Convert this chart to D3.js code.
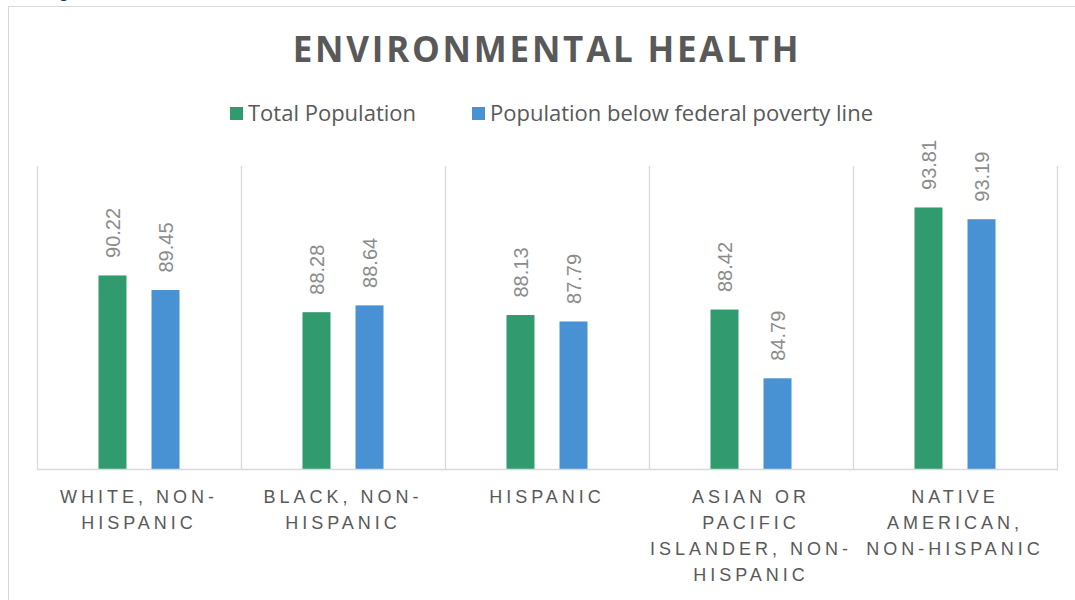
<!DOCTYPE html>
<html>
<head>
<meta charset="utf-8">
<script src="https://cdn.jsdelivr.net/npm/d3@7"></script>
<style>
  html, body { margin: 0; padding: 0; background: #ffffff; }
  svg { display: block; }
</style>
</head>
<body>
<svg id="chart" width="1075" height="600"></svg>
<script>
// Chart data
const categories = [
  "White, Non-Hispanic",
  "Black, Non-Hispanic",
  "Hispanic",
  "Asian or Pacific Islander, Non-Hispanic",
  "Native American, Non-Hispanic"
];
// Wrapped tick label lines for each category
const tickLabelLines = [
  ["WHITE, NON-", "HISPANIC"],
  ["BLACK, NON-", "HISPANIC"],
  ["HISPANIC"],
  ["ASIAN OR", "PACIFIC", "ISLANDER, NON-", "HISPANIC"],
  ["NATIVE", "AMERICAN,", "NON-HISPANIC"]
];
const seriesNames = ["Total Population", "Population below federal poverty line"];
const totalPopulation = [90.22, 88.28, 88.13, 88.42, 93.81];
const belowPovertyLine = [89.45, 88.64, 87.79, 84.79, 93.19];
const seriesValues = [totalPopulation, belowPovertyLine];
const seriesColors = ["#319a6f", "#4891d3"];
const yDomain = [80, 96];

const svg = d3.select("#chart");

// Chart area frame
svg.append("rect")
  .attr("x", 8.5).attr("y", 6.5)
  .attr("width", 1100).attr("height", 700)
  .attr("fill", "none").attr("stroke", "#d9d9d9").attr("stroke-width", 1);

// Caption descender peeking in from above
svg.append("text")
  .attr("x", 59).attr("y", -2)
  .attr("font-family", "Liberation Sans, Arial, sans-serif")
  .attr("font-size", 16).attr("font-weight", 700)
  .attr("fill", "#1f3864")
  .text("g");

const plot = { left: 37, right: 1057, top: 166, bottom: 469 };

const x0 = d3.scaleBand().domain(categories).range([plot.left, plot.right]).paddingInner(0).paddingOuter(0);
const x1 = d3.scaleBand().domain(seriesNames).range([0, x0.bandwidth()]).paddingInner(0.4717).paddingOuter(1.16);
const y = d3.scaleLinear().domain(yDomain).range([plot.bottom, plot.top]);

// Title
svg.append("text")
  .attr("x", 547).attr("y", 62)
  .attr("text-anchor", "middle")
  .attr("font-family", "Open Sans, sans-serif")
  .attr("font-weight", 700)
  .attr("font-size", 35)
  .attr("letter-spacing", 2.75)
  .attr("fill", "#595959")
  .text("ENVIRONMENTAL HEALTH");

// Legend
const legendItems = [
  { name: seriesNames[0], color: seriesColors[0], x: 230 },
  { name: seriesNames[1], color: seriesColors[1], x: 472 }
];
const legend = svg.append("g");
legendItems.forEach(it => {
  legend.append("rect")
    .attr("x", it.x).attr("y", 107)
    .attr("width", 13).attr("height", 13)
    .attr("fill", it.color);
  legend.append("text")
    .attr("x", it.x + 18).attr("y", 121)
    .attr("font-family", "Open Sans, sans-serif")
    .attr("font-size", 22)
    .attr("fill", "#595959")
    .text(it.name);
});

// Vertical category separators
const separators = categories.map(c => x0(c)).concat([plot.right]);
svg.append("g").selectAll("line").data(separators).join("line")
  .attr("x1", d => d + 0.5).attr("x2", d => d + 0.5)
  .attr("y1", plot.top).attr("y2", plot.bottom)
  .attr("stroke", "#d9d9d9").attr("stroke-width", 1.3);

// Bars
const groups = svg.append("g").selectAll("g").data(categories).join("g")
  .attr("transform", c => `translate(${x0(c)},0)`);

groups.selectAll("rect")
  .data((c, i) => seriesNames.map((s, j) => ({ s, v: seriesValues[j][i], color: seriesColors[j] })))
  .join("rect")
  .attr("x", d => x1(d.s))
  .attr("y", d => y(d.v))
  .attr("width", x1.bandwidth())
  .attr("height", d => y(yDomain[0]) - y(d.v))
  .attr("fill", d => d.color);

// Rotated value labels
groups.selectAll("text.value")
  .data((c, i) => seriesNames.map((s, j) => ({ s, v: seriesValues[j][i] })))
  .join("text")
  .attr("class", "value")
  .attr("transform", d => `translate(${x1(d.s) + x1.bandwidth() / 2},${y(d.v) - 17.5}) rotate(-90)`)
  .attr("dy", "0.36em")
  .attr("text-anchor", "start")
  .attr("font-family", "Liberation Sans, Arial, sans-serif")
  .attr("font-size", 20)
  .attr("fill", "#8c8c8c")
  .text(d => d3.format(".2f")(d.v));

// Baseline axis
svg.append("line")
  .attr("x1", plot.left).attr("x2", plot.right + 1)
  .attr("y1", plot.bottom + 0.5).attr("y2", plot.bottom + 0.5)
  .attr("stroke", "#d9d9d9").attr("stroke-width", 1.3);

// Category tick labels
const ticks = svg.append("g").selectAll("text").data(categories).join("text")
  .attr("x", c => x0(c) + x0.bandwidth() / 2)
  .attr("y", 503)
  .attr("text-anchor", "middle")
  .attr("font-family", "Liberation Sans, Arial, sans-serif")
  .attr("font-size", 18)
  .attr("letter-spacing", 4)
  .attr("fill", "#595959");
ticks.each(function (c, i) {
  const t = d3.select(this);
  tickLabelLines[i].forEach((line, k) => {
    t.append("tspan")
      .attr("x", x0(c) + x0.bandwidth() / 2)
      .attr("dy", k === 0 ? 0 : 26)
      .text(line);
  });
});
</script>
</body>
</html>
